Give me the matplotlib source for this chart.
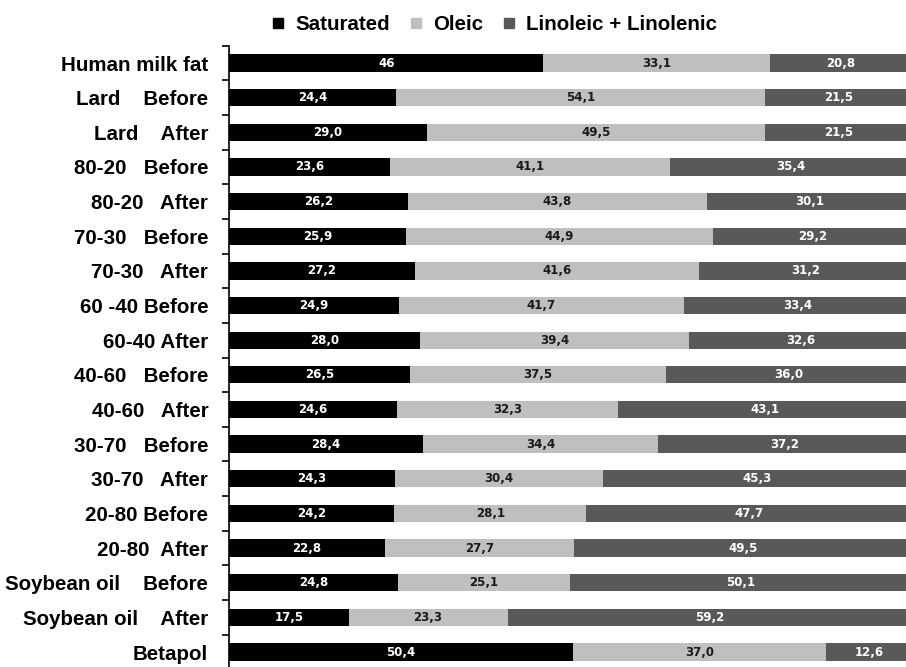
import matplotlib
matplotlib.use("Agg")
import matplotlib.pyplot as plt
from matplotlib.lines import Line2D
import numpy as np

categories = ["Human milk fat", "Lard    Before", "Lard    After", "80-20   Before", "80-20   After",
              "70-30   Before", "70-30   After", "60 -40 Before", "60-40 After", "40-60   Before",
              "40-60   After", "30-70   Before", "30-70   After", "20-80 Before", "20-80  After",
              "Soybean oil    Before", "Soybean oil    After", "Betapol"]
saturated = [46, 24.4, 29.0, 23.6, 26.2, 25.9, 27.2, 24.9, 28.0, 26.5, 24.6, 28.4, 24.3, 24.2, 22.8, 24.8, 17.5, 50.4]
oleic = [33.1, 54.1, 49.5, 41.1, 43.8, 44.9, 41.6, 41.7, 39.4, 37.5, 32.3, 34.4, 30.4, 28.1, 27.7, 25.1, 23.3, 37.0]
linoleic = [20.8, 21.5, 21.5, 35.4, 30.1, 29.2, 31.2, 33.4, 32.6, 36.0, 43.1, 37.2, 45.3, 47.7, 49.5, 50.1, 59.2, 12.6]
series_names = ["Saturated", "Oleic", "Linoleic + Linolenic"]
colors = ["#000000", "#bfbfbf", "#595959"]
text_colors = ["white", "#1a1a1a", "white"]

def fmt(v):
    if isinstance(v, int):
        return str(v)
    return f"{v:.1f}".replace(".", ",")

fig = plt.figure(figsize=(9.06, 6.67), dpi=100)
ax = fig.add_axes([229 / 906, -0.0035, 683 / 906, 0.935])

raw = [saturated, oleic, linoleic]
arr = np.array(raw, dtype=float)
totals = arr.sum(axis=0)
y = np.arange(len(categories))
left = np.zeros(len(categories))
for s, (vals, c, tc) in enumerate(zip(raw, colors, text_colors)):
    pct = np.array(vals, dtype=float) / totals * 100
    ax.barh(y, pct, left=left, height=0.5, color=c, edgecolor="none")
    for i, v in enumerate(vals):
        ax.text(left[i] + pct[i] / 2, y[i], fmt(v), ha="center", va="center",
                color=tc, fontsize=8.5, fontweight="bold", family="DejaVu Sans")
    left += pct

ax.set_xlim(0, 100)
ax.set_ylim(len(categories) - 0.5, -0.5)
ax.set_yticks(y)
ax.set_yticklabels(categories, fontsize=14.8, fontweight="bold", family="Liberation Sans")
ax.set_yticks(np.arange(-0.5, len(categories), 1), minor=True)
ax.tick_params(axis="y", which="major", length=0, pad=15)
ax.tick_params(axis="y", which="minor", length=5, width=1.2, direction="out")
ax.set_xticks([])
for sp in ["top", "right", "bottom"]:
    ax.spines[sp].set_visible(False)
ax.spines["left"].set_linewidth(1.2)

handles = [Line2D([0], [0], marker="s", linestyle="none", markersize=7,
                  markerfacecolor=c, markeredgecolor=c) for c in colors]
fig.legend(handles, series_names, loc="center", bbox_to_anchor=(494 / 906, 1 - 25 / 667),
           ncol=3, frameon=False, handlelength=0.7, handletextpad=0.5, columnspacing=0.9,
           borderpad=0, prop={"family": "Liberation Sans", "weight": "bold", "size": 14.8})

fig.savefig("out.png", dpi=100)
